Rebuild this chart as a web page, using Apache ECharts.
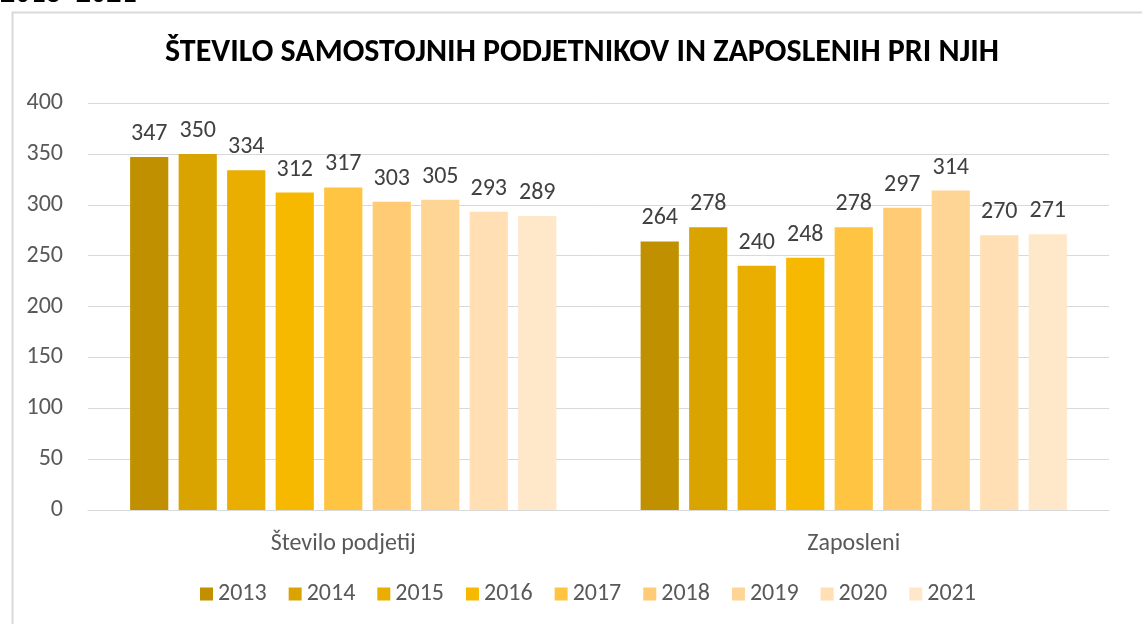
<!DOCTYPE html>
<html>
<head>
<meta charset="utf-8">
<script src="https://cdn.jsdelivr.net/npm/echarts@6/dist/echarts.min.js"></script>
<style>
    html, body { margin: 0; padding: 0; background: #fff; }
    #chart { width: 1142px; height: 624px; }
</style>
</head>
<body>
<div id="chart"></div>
<script>
    // podatki
    var categories = ['Število podjetij', 'Zaposleni'];
    var years = ['2013', '2014', '2015', '2016', '2017', '2018', '2019', '2020', '2021'];
    var podjetja = [347, 350, 334, 312, 317, 303, 305, 293, 289];
    var zaposleni = [264, 278, 240, 248, 278, 297, 314, 270, 271];
    var yTicks = [0, 50, 100, 150, 200, 250, 300, 350, 400];

    var colors = ['#C09000', '#DAA400', '#E9AE00', '#F7B900', '#FFC441', '#FFCC75', '#FFD596', '#FFDFB3', '#FFE7C9'];
    var font = 'Carlito, "Open Sans", "Noto Sans", sans-serif';

    var series = years.map(function (y, i) {
        return {
            name: y,
            type: 'bar',
            data: [podjetja[i], zaposleni[i]],
            barGap: '27%',
            barCategoryGap: '16.5%',
            itemStyle: {color: colors[i]},
            label: {
                show: true,
                position: 'top',
                distance: 11,
                color: '#404040',
                fontSize: 24,
                fontFamily: font
            }
        }
    });

    var chart = echarts.init(document.getElementById('chart'));
    chart.setOption({
        animation: false,
        color: colors,
        graphic: [
            {
                type: 'text', x: 0, y: -21,
                style: {text: '2013–2021', fontSize: 30, fontWeight: 'bold', fill: '#000', fontFamily: font}
            },
            {
                type: 'rect', left: 10, top: 10,
                shape: {width: 1140, height: 620},
                style: {fill: 'none', stroke: '#D9D9D9', lineWidth: 2}
            }
        ],
        title: {
            text: 'ŠTEVILO SAMOSTOJNIH PODJETNIKOV IN ZAPOSLENIH PRI NJIH',
            left: 160,
            top: 32,
            textStyle: {fontSize: 32, fontWeight: 'bold', color: '#000', fontFamily: font}
        },
        grid: {left: 88, right: 33, top: 103, bottom: 114, containLabel: false},
        legend: {
            bottom: 13,
            left: 195,
            icon: 'rect',
            itemWidth: 13,
            itemHeight: 13,
            itemGap: 22,
            textStyle: {color: '#595959', fontSize: 24, fontFamily: font}
        },
        xAxis: {
            type: 'category',
            data: categories,
            axisTick: {show: false},
            axisLine: {lineStyle: {color: '#D9D9D9', width: 1}},
            axisLabel: {color: '#595959', fontSize: 24, fontFamily: font, margin: 22}
        },
        yAxis: {
            type: 'value',
            min: yTicks[0],
            max: yTicks[yTicks.length - 1],
            interval: 50,
            axisLine: {show: false},
            axisTick: {show: false},
            axisLabel: {color: '#595959', fontSize: 24, fontFamily: font, margin: 25},
            splitLine: {lineStyle: {color: '#D9D9D9', width: 1}}
        },
        series: series
    });
</script>
</body>
</html>
